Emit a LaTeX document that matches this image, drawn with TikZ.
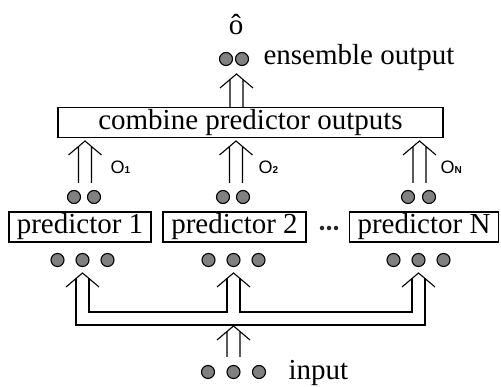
\documentclass[tikz,border=0pt]{standalone}
\usepackage{fontspec}
\setmainfont{Liberation Serif}
\newfontfamily\labfont{Liberation Sans}
\usetikzlibrary{calc}

\tikzset{
  unit/.style={circle,draw,fill=gray,minimum size=13pt,inner sep=0pt,line width=1.1pt},
  edot/.style={circle,fill=black!85,minimum size=4.5pt,inner sep=0pt},
  block/.style={draw,line width=1.8pt,inner xsep=8pt,inner ysep=0pt,minimum height=30pt},
  lab/.style={font=\labfont\fontsize{18}{18}\selectfont,anchor=west,inner sep=0pt},
  wedge/.pic={\draw (-16.5,14) -- (0,0) -- (16.5,14);},
  dblup/.style={to path={($(\tikztostart)+(-6.5,0)$) -- ($(\tikztotarget)+(-6.5,5.5)$)
      ($(\tikztostart)+(6.5,0)$) -- ($(\tikztotarget)+(6.5,5.5)$)
      ($(\tikztotarget)+(-16.5,14)$) -- (\tikztotarget) -- ($(\tikztotarget)+(16.5,14)$)}}
}
\newcommand{\olab}[1]{O\raisebox{-0.5pt}{\fontsize{10}{10}\selectfont\bfseries #1}}

\begin{document}
\begin{tikzpicture}[x=1pt,y=-1pt,line width=1.1pt,font=\fontsize{29}{34}\selectfont]
    \useasboundingbox (0,0) rectangle (501,387);

    % ensemble output
    \node[anchor=base,inner sep=0pt] (ohat) at (236,35) {ô};
    \node[unit] (y1) at (226,59) {};
    \node[unit] (y2) at (242,59) {};
    \node[anchor=base west,inner sep=0pt] (ens) at (263,65) {ensemble output};

    \node[block,minimum width=385pt] (comb) at (250.5,122.5) {combine predictor outputs};

    % predictors
    \node[block] (p1) at (80,227) {predictor 1};
    \node[block] (p2) at (234.5,227) {predictor 2};
    \node[block] (pN) at (424,227) {predictor N};
    \node[edot] (e1) at (322,228) {};
    \node[edot] (e2) at (329,228) {};
    \node[edot] (e3) at (336,228) {};

    % predictor outputs
    \node[unit] (a1) at (74,197) {};
    \node[unit] (b1) at (94,197) {};
    \node[unit] (a2) at (223,197) {};
    \node[unit] (b2) at (243,197) {};
    \node[unit] (aN) at (408,197) {};
    \node[unit] (bN) at (429,197) {};

    % predictor inputs
    \foreach \c/\n in {82.5/1,233.5/2,418.5/N}{
        \node[unit] (u\n) at (\c-25,260) {};
        \node[unit] (v\n) at (\c,260) {};
        \node[unit] (w\n) at (\c+25,260) {};
    }

    % arrows up to the combiner and the output
    \coordinate (s1) at (85,183);   \coordinate (t1) at (85,141);
    \coordinate (s2) at (236,183);  \coordinate (t2) at (236,141);
    \coordinate (sN) at (419.5,183); \coordinate (tN) at (419.5,141);
    \coordinate (sc) at (236.5,107); \coordinate (tc) at (236.5,74);
    \draw[dblup] (s1) to (t1);
    \draw[dblup] (s2) to (t2);
    \draw[dblup] (sN) to (tN);
    \draw[dblup] (sc) to (tc);

    \node[lab] (l1) at (110,167) {\olab{1}};
    \node[lab] (l2) at (258,167) {\olab{2}};
    \node[lab] (lN) at (440,167) {\olab{N}};

    % input fan-out
    \coordinate (g1) at (82.5,273);
    \coordinate (g2) at (233.5,273);
    \coordinate (gN) at (418.5,273);
    \draw ($(g1)+(-6.5,5.5)$) |- ($(gN)+(6.5,52)$) -- ($(gN)+(6.5,5.5)$);
    \draw ($(g1)+(6.5,5.5)$) |- ($(g2)+(-6.5,39)$) -- ($(g2)+(-6.5,5.5)$);
    \draw ($(g2)+(6.5,5.5)$) |- ($(gN)+(-6.5,39)$) -- ($(gN)+(-6.5,5.5)$);
    \foreach \g in {g1,g2,gN}
        \pic at (\g) {wedge};

    \coordinate (si) at (233.5,357); \coordinate (ti) at (233.5,326);
    \draw[dblup] (si) to (ti);

    % input
    \node[unit] (x1) at (208,372) {};
    \node[unit] (x2) at (233.5,372) {};
    \node[unit] (x3) at (259,372) {};
    \node[anchor=base west,inner sep=0pt] (inp) at (288,380) {input};
\end{tikzpicture}
\end{document}
